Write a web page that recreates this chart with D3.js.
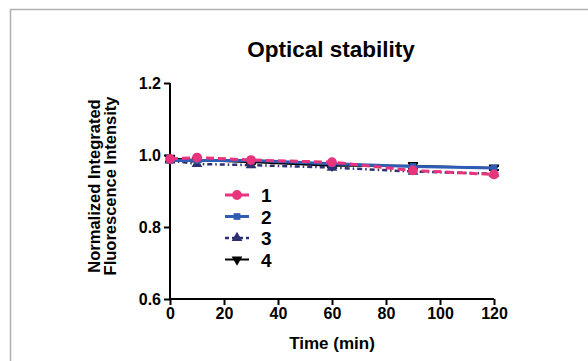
<!DOCTYPE html>
<html>
<head>
<meta charset="utf-8">
<script src="https://cdn.jsdelivr.net/npm/d3@7"></script>
<style>
  html, body { margin: 0; padding: 0; background: #fff; }
  svg { display: block; font-family: "Liberation Sans", Arial, sans-serif; }
</style>
</head>
<body>
<svg id="chart" width="588" height="361"></svg>
<script>
// data
const times = [0, 10, 30, 60, 90, 120];
const seriesNames = ['1', '2', '3', '4'];
const s1 = [0.989, 0.993, 0.986, 0.980, 0.957, 0.946];
const s2 = [0.985, 0.985, 0.985, 0.976, 0.968, 0.964];
const s3 = [0.985, 0.975, 0.972, 0.965, 0.954, 0.948];
const s4 = [0.990, 0.986, 0.980, 0.970, 0.970, 0.964];
const err4 = [0.008, 0.004, 0.004, 0.004, 0.008, 0.006];
const xTicks = [0, 20, 40, 60, 80, 100, 120];
const yTicks = [0.6, 0.8, 1.0, 1.2];

const svg = d3.select('#chart');

// frame (only top and left edges visible)
svg.append('path')
  .attr('d', 'M10.5,361 V9.5 H588')
  .attr('fill', 'none')
  .attr('stroke', '#b0b0b0')
  .attr('stroke-width', 1.5);

const x = d3.scaleLinear().domain([0, 120]).range([170, 494]);
const y = d3.scaleLinear().domain([0.6, 1.2]).range([299, 83]);

// title
svg.append('text')
  .attr('x', 331).attr('y', 57)
  .attr('text-anchor', 'middle')
  .attr('font-size', 22.5).attr('font-weight', 'bold')
  .text('Optical stability');

// axes
const gx = svg.append('g').attr('transform', 'translate(0,299)')
  .call(d3.axisBottom(x).tickValues(xTicks).tickSize(6).tickPadding(3).tickSizeOuter(0));
const gy = svg.append('g').attr('transform', 'translate(170,0)')
  .call(d3.axisLeft(y).tickValues(yTicks).tickSize(6).tickPadding(3).tickFormat(d3.format('.1f')).tickSizeOuter(0));

[gx, gy].forEach(g => {
  g.select('.domain').attr('stroke', '#000').attr('stroke-width', 2);
  g.selectAll('.tick line').attr('stroke', '#000').attr('stroke-width', 2);
  g.selectAll('.tick text').attr('fill', '#000').attr('font-size', 16).attr('font-weight', 'bold')
    .attr('font-family', '"Liberation Sans", Arial, sans-serif');
});
gy.select('.domain').attr('d', 'M0,300V83');
gx.select('.domain').attr('d', 'M169,0H494');

// axis titles
svg.append('text')
  .attr('x', 332).attr('y', 349)
  .attr('text-anchor', 'middle')
  .attr('font-size', 17).attr('font-weight', 'bold')
  .text('Time (min)');

const yt = svg.append('text')
  .attr('transform', 'translate(100,186) rotate(-90)')
  .attr('text-anchor', 'middle')
  .attr('font-size', 16.5).attr('font-weight', 'bold');
yt.append('tspan').attr('x', 0).attr('dy', 0).text('Normalized Integrated');
yt.append('tspan').attr('x', 0).attr('dy', 16).text('Fluorescence Intensity');

const series = [
  { name: seriesNames[0], values: s1, color: '#e8337d', dash: '8,4', shape: d3.symbolCircle, size: 75, width: 3 },
  { name: seriesNames[1], values: s2, color: '#2f5db5', dash: null, shape: d3.symbolSquare, size: 45, width: 3 },
  { name: seriesNames[2], values: s3, color: '#2d2f6e', dash: '5,3,1.5,3', shape: d3.symbolTriangle, size: 50, width: 2.5 },
  { name: seriesNames[3], values: s4, color: '#000', dash: null, shape: 'down', size: 50, width: 2, err: err4 },
];

const line = d3.line().x((d, i) => x(times[i])).y(d => y(d));

function marker(g, s, cx, cy) {
  g.append('path')
    .attr('d', d3.symbol(s.shape === 'down' ? d3.symbolTriangle : s.shape, s.size)())
    .attr('transform', `translate(${cx},${cy})` + (s.shape === 'down' ? ' rotate(180)' : ''))
    .attr('fill', s.color);
}

// draw in order 4,3,2,1 so pink is on top
[...series].reverse().forEach(s => {
  const g = svg.append('g');
  if (s.err) {
    s.values.forEach((v, i) => {
      const cx = x(times[i]);
      g.append('path')
        .attr('d', `M${cx},${y(v + s.err[i])}V${y(v - s.err[i])}M${cx - 5},${y(v + s.err[i])}h10M${cx - 5},${y(v - s.err[i])}h10`)
        .attr('stroke', s.color).attr('stroke-width', 2).attr('fill', 'none');
    });
  }
  g.append('path')
    .datum(s.values)
    .attr('d', line)
    .attr('fill', 'none')
    .attr('stroke', s.color)
    .attr('stroke-width', s.width)
    .attr('stroke-dasharray', s.dash);
  s.values.forEach((v, i) => marker(g, s, x(times[i]), y(v)));
});

// legend
const legend = svg.append('g');
series.forEach((s, i) => {
  const ly = 195 + i * 21.5;
  const lg = legend.append('g');
  lg.append('line')
    .attr('x1', 225).attr('x2', 249).attr('y1', ly).attr('y2', ly)
    .attr('stroke', s.color).attr('stroke-width', s.width)
    .attr('stroke-dasharray', i === 2 ? '4,3' : null);
  marker(lg, s, 237, ly);
  lg.append('text')
    .attr('x', 261).attr('y', ly + 7)
    .attr('font-size', 19).attr('font-weight', 'bold')
    .text(s.name);
});
</script>
</body>
</html>
